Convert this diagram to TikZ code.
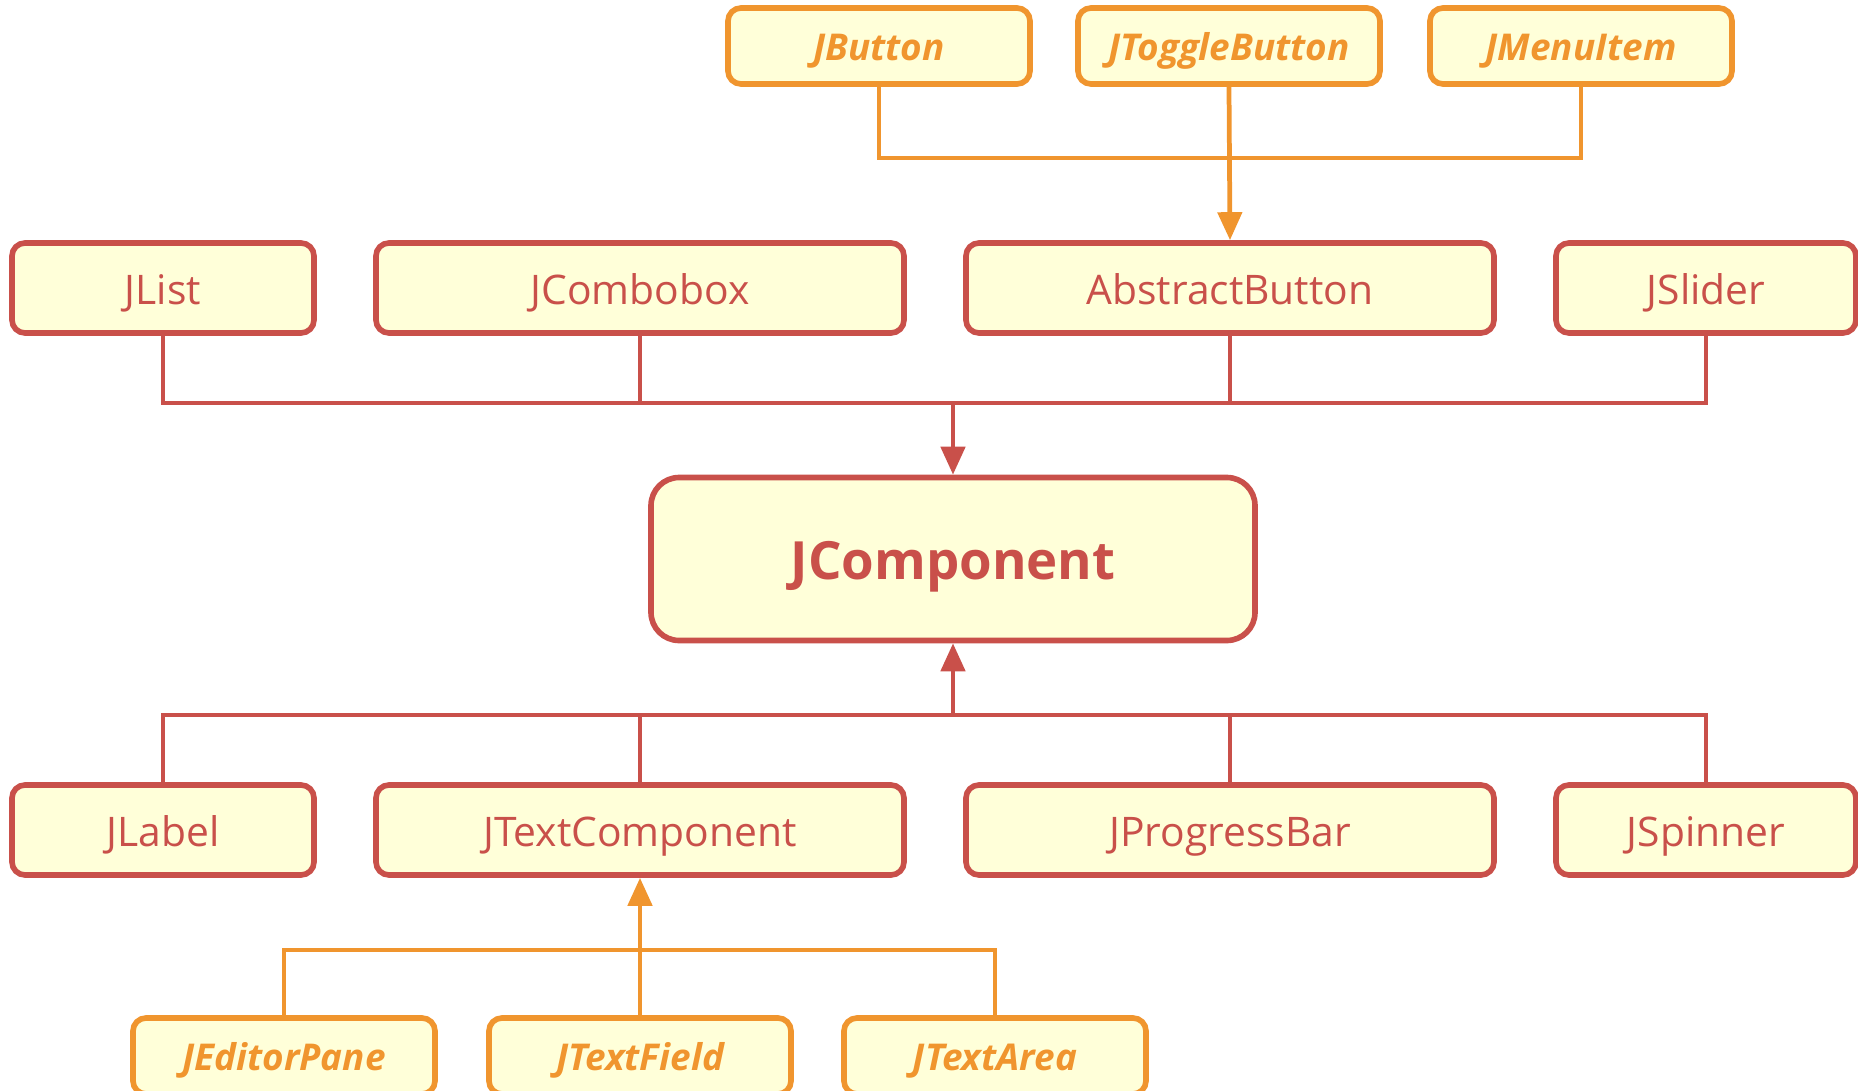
\documentclass[tikz,border=0pt]{standalone}
\usepackage{fontspec}
\setmainfont{Open Sans}
\usepackage{xcolor}
\usepackage{tikz}
\usetikzlibrary{arrows.meta, positioning}
\definecolor{swingred}{RGB}{201, 80, 74}
\definecolor{swingorange}{RGB}{240, 149, 46}
\definecolor{swingfill}{RGB}{255, 255, 217}

\begin{document}
\begin{tikzpicture}[
    box/.style={rectangle, rounded corners=3.7pt, draw=#1, fill=swingfill, text=#1, line width=1.6pt, inner sep=0pt, align=center, text depth=0pt},
    cls/.style={box=swingred, minimum width=#1, minimum height=0.9cm, text height=9.4pt, font=\fontsize{11.6}{14}\selectfont},
    iface/.style={box=swingorange, minimum width=3.02cm, minimum height=0.76cm, text height=8.4pt, font=\fontsize{10.5}{13}\selectfont\bfseries\itshape},
    root/.style={box=swingred, rounded corners=8pt, minimum width=6.04cm, minimum height=1.63cm, text height=11.8pt, font=\fontsize{15}{18}\selectfont\bfseries},
    link/.style={line width=1.35pt, #1},
    arr/.style={-{Triangle[length=0.28cm, width=0.24cm]}, line width=1.35pt, #1}
]
\useasboundingbox (0, 0) rectangle (18.58, -10.91);

% Top row — interfaces above AbstractButton
\node[iface] (jbutton) at (8.79, -0.46) {JButton};
\node[iface] (jtoggle) at (12.29, -0.46) {JToggleButton};
\node[iface] (jmenuitem) at (15.81, -0.46) {JMenuItem};
% Second row
\node[cls=3.02cm] (jlist) at (1.63, -2.88) {JList};
\node[cls=5.28cm] (jcombobox) at (6.40, -2.88) {JCombobox};
\node[cls=5.28cm] (abstractbutton) at (12.30, -2.88) {AbstractButton};
\node[cls=3.00cm] (jslider) at (17.06, -2.88) {JSlider};
% Middle
\node[root] (jcomponent) at (9.53, -5.59) {JComponent};
% Third row
\node[cls=3.02cm] (jlabel) at (1.63, -8.30) {JLabel};
\node[cls=5.28cm] (jtextcomponent) at (6.40, -8.30) {JTextComponent};
\node[cls=5.28cm] (jprogressbar) at (12.30, -8.30) {JProgressBar};
\node[cls=3.00cm] (jspinner) at (17.06, -8.30) {JSpinner};
% Bottom row — interfaces below JTextComponent
\node[iface] (jeditorpane) at (2.84, -10.56) {JEditorPane};
\node[iface] (jtextfield) at (6.40, -10.56) {JTextField};
\node[iface] (jtextarea) at (9.95, -10.56) {JTextArea};

% Bus levels
\coordinate (topbus) at (0, -1.58);
\coordinate (midbus) at (0, -4.03);
\coordinate (lowbus) at (0, -7.15);
\coordinate (botbus) at (0, -9.50);

% Buttons into AbstractButton
\draw[link=swingorange] (jbutton.south) -- (jbutton.south |- topbus) -- (jmenuitem.south |- topbus) -- (jmenuitem.south);
\draw[arr=swingorange] (jtoggle.south) -- (abstractbutton.north);
% Second row into JComponent
\draw[link=swingred] (jlist.south) -- (jlist.south |- midbus) -- (jslider.south |- midbus) -- (jslider.south);
\draw[link=swingred] (jcombobox.south) -- (jcombobox.south |- midbus);
\draw[link=swingred] (abstractbutton.south) -- (abstractbutton.south |- midbus);
\draw[arr=swingred] (jcomponent.north |- midbus) -- (jcomponent.north);
% Third row into JComponent
\draw[link=swingred] (jlabel.north) -- (jlabel.north |- lowbus) -- (jspinner.north |- lowbus) -- (jspinner.north);
\draw[link=swingred] (jtextcomponent.north) -- (jtextcomponent.north |- lowbus);
\draw[link=swingred] (jprogressbar.north) -- (jprogressbar.north |- lowbus);
\draw[arr=swingred] (jcomponent.south |- lowbus) -- (jcomponent.south);
% Text widgets into JTextComponent
\draw[link=swingorange] (jeditorpane.north) -- (jeditorpane.north |- botbus) -- (jtextarea.north |- botbus) -- (jtextarea.north);
\draw[arr=swingorange] (jtextfield.north) -- (jtextcomponent.south);

\end{tikzpicture}
\end{document}
